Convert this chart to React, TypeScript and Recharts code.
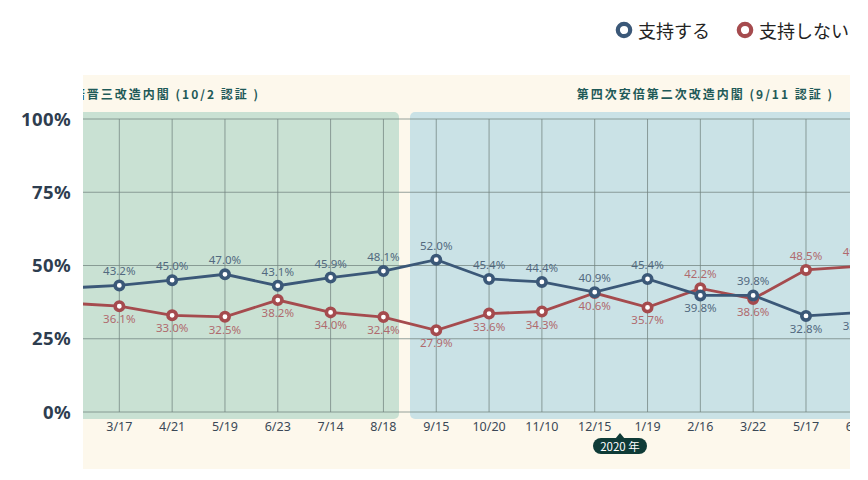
import React from "react";
import {
  LineChart,
  Line,
  XAxis,
  YAxis,
  CartesianGrid,
  ReferenceLine,
  LabelList,
} from "recharts";

// 調査日 (左端・右端はトリミングで一部のみ見える)
const dates = ["2/18", "3/17", "4/21", "5/19", "6/23", "7/14", "8/18", "9/15", "10/20", "11/10", "12/15", "1/19", "2/16", "3/22", "5/17", "6/21"];
const support = [42.3, 43.2, 45.0, 47.0, 43.1, 45.9, 48.1, 52.0, 45.4, 44.4, 40.9, 45.4, 39.8, 39.8, 32.8, 33.9];
const nonSupport = [37.2, 36.1, 33.0, 32.5, 38.2, 34.0, 32.4, 27.9, 33.6, 34.3, 40.6, 35.7, 42.2, 38.6, 48.5, 49.7];
const yTicks = [0, 25, 50, 75, 100];

const BLUE = "#3b5878";
const RED = "#a54b4e";
const GRID = "#72837f";
const PLOT_LEFT = 83;

const rows = dates.map((d, i) => ({
  idx: i,
  date: d,
  support: support[i],
  nonSupport: nonSupport[i],
}));

const makeLabel = (own: number[], other: number[], color: string) => (props: any) => {
  const { x, y, index, value } = props;
  // 枠の外に完全に出るラベルは描かない
  if (x + 16 < PLOT_LEFT) return null;
  const above = own[index] >= other[index];
  return (
    <text
      x={x}
      y={above ? y - 10 : y + 17}
      textAnchor="middle"
      fill={color}
      fontSize={11.5}
      fontFamily="'Noto Sans', sans-serif"
      clipPath="url(#plotClip)"
    >
      {value.toFixed(1)}%
    </text>
  );
};

const DateTick = (props: any) => {
  const { x, y, payload } = props;
  if (x + 16 < PLOT_LEFT) return null;
  return (
    <text
      x={x}
      y={y}
      dy="0.71em"
      textAnchor="middle"
      fill="#3b4856"
      fontSize={12.5}
      fontFamily="'Noto Sans', sans-serif"
      clipPath="url(#plotClip)"
    >
      {dates[payload.value]}
    </text>
  );
};

const LegendItem = ({ color, text }: { color: string; text: string }) => (
  <div style={{ display: "flex", alignItems: "center", marginLeft: 26 }}>
    <svg width={18} height={18}>
      <circle cx={9} cy={9} r={6.2} fill="#fff" stroke={color} strokeWidth={4.2} />
    </svg>
    <span style={{ marginLeft: 5, fontSize: 18, color: "#222", fontFamily: "'Noto Sans CJK JP', sans-serif" }}>
      {text}
    </span>
  </div>
);

const cabinetText: React.CSSProperties = {
  position: "absolute",
  whiteSpace: "nowrap",
  fontFamily: "'Noto Sans CJK JP', sans-serif",
  fontWeight: 700,
  fontSize: 12,
  letterSpacing: 2,
  color: "#1f5a58",
  lineHeight: "18px",
};

export default function App() {
  return (
    <div
      style={{
        position: "fixed",
        left: 0,
        top: 0,
        width: 868,
        height: 480,
        background: "#fff",
        overflow: "hidden",
      }}
    >
      <svg width={0} height={0} style={{ position: "absolute" }}>
        <defs>
          <clipPath id="plotClip" clipPathUnits="userSpaceOnUse">
            <rect x={PLOT_LEFT} y={0} width={767} height={480} />
          </clipPath>
        </defs>
      </svg>

      {/* 凡例 */}
      <div style={{ position: "absolute", top: 17, right: 19, display: "flex" }}>
        <LegendItem color={BLUE} text="支持する" />
        <LegendItem color={RED} text="支持しない" />
      </div>

      {/* 背景パネル */}
      <div style={{ position: "absolute", left: 83, top: 75, width: 767, height: 394, background: "#fdf8ec" }} />
      <div
        style={{
          position: "absolute",
          left: 83,
          top: 112,
          width: 316,
          height: 307,
          background: "#c9e1d3",
          borderRadius: "0 5px 5px 0",
        }}
      />
      <div
        style={{
          position: "absolute",
          left: 410,
          top: 112,
          width: 440,
          height: 307,
          background: "#cae2e6",
          borderRadius: "5px 0 0 5px",
        }}
      />

      {/* 内閣ラベル */}
      <div style={{ position: "absolute", left: 83, top: 85, width: 300, height: 18, overflow: "hidden" }}>
        <span style={{ ...cabinetText, right: 123, top: 0 }}>第四次安倍晋三改造内閣 (10/2 認証 )</span>
      </div>
      <span style={{ ...cabinetText, right: 868 - 834, top: 85 }}>第四次安倍第二次改造内閣 (9/11 認証 )</span>

      {/* 2020年 */}
      <div
        style={{
          position: "absolute",
          left: 615,
          top: 433,
          width: 0,
          height: 0,
          borderLeft: "5px solid transparent",
          borderRight: "5px solid transparent",
          borderBottom: "6px solid #0f3b37",
        }}
      />
      <div
        style={{
          position: "absolute",
          left: 593,
          top: 438,
          width: 54,
          height: 16,
          borderRadius: 8,
          background: "#0f3b37",
          color: "#fff",
          fontSize: 11.5,
          lineHeight: "16px",
          textAlign: "center",
          fontFamily: "'Noto Sans CJK JP', sans-serif",
        }}
      >
        2020 年
      </div>

      <div style={{ position: "absolute", left: 0, top: 0 }}>
        <LineChart width={868} height={480} data={rows} margin={{ top: 119, right: 18, bottom: 0, left: 0 }}>
          <CartesianGrid vertical={false} stroke={GRID} strokeOpacity={0.75} />
          {rows.map((r) => (
            <ReferenceLine key={r.idx} x={r.idx} stroke={GRID} strokeOpacity={0.75} />
          ))}
          <XAxis
            type="number"
            dataKey="idx"
            domain={[0.3124, 14.833]}
            allowDataOverflow
            ticks={rows.map((r) => r.idx)}
            interval={0}
            tick={<DateTick />}
            tickLine={false}
            axisLine={false}
            tickSize={6}
            tickMargin={4}
            height={68}
          />
          <YAxis
            domain={[0, 100]}
            ticks={yTicks}
            tickFormatter={(v: number) => `${v}%`}
            width={83}
            tickLine={false}
            axisLine={false}
            tickSize={6}
            tickMargin={6}
            tick={{ fill: "#2e3d4f", fontSize: 18.5, fontWeight: 700, letterSpacing: 0.4, fontFamily: "'Noto Sans', sans-serif" }}
          />
          <Line
            type="linear"
            dataKey="nonSupport"
            stroke={RED}
            strokeWidth={2.8}
            dot={{ r: 4.2, fill: "#fff", stroke: RED, strokeWidth: 3.6 }}
            activeDot={false}
            isAnimationActive={false}
          >
            <LabelList dataKey="nonSupport" content={makeLabel(nonSupport, support, "#b06a6e")} />
          </Line>
          <Line
            type="linear"
            dataKey="support"
            stroke={BLUE}
            strokeWidth={2.8}
            dot={{ r: 4.2, fill: "#fff", stroke: BLUE, strokeWidth: 3.6 }}
            activeDot={false}
            isAnimationActive={false}
          >
            <LabelList dataKey="support" content={makeLabel(support, nonSupport, "#52697f")} />
          </Line>
        </LineChart>
      </div>
    </div>
  );
}
